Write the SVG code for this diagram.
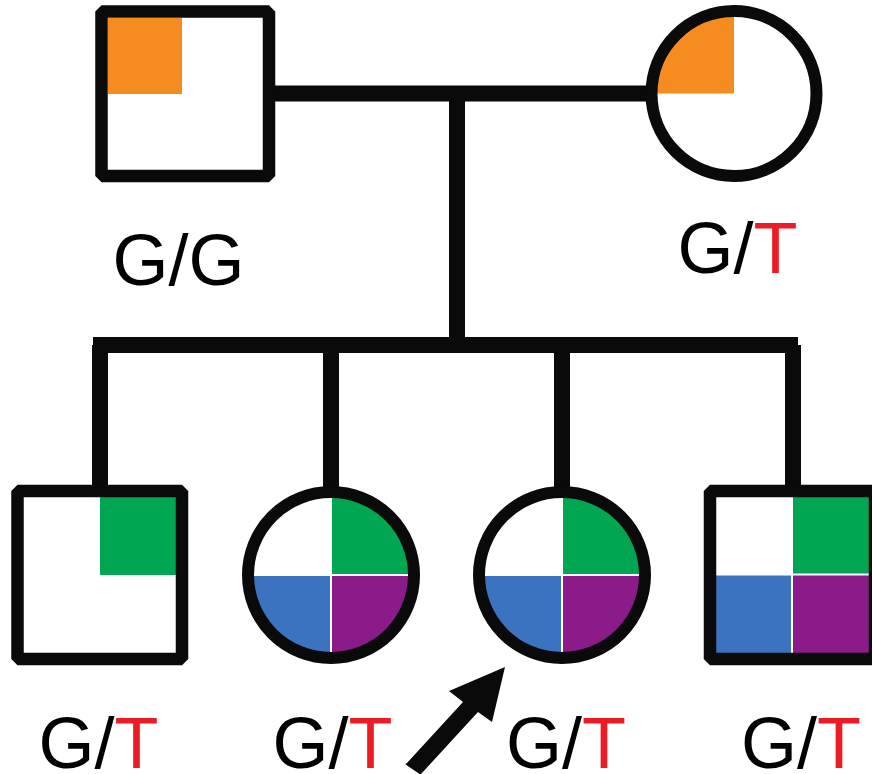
<svg xmlns="http://www.w3.org/2000/svg" width="872" height="774" viewBox="0 0 872 774">
<style>
.lbl{font-family:"Liberation Sans",Arial,sans-serif;font-size:72px;fill:#000}
.r{fill:#ED1C24}
.ln{stroke:#0A0A0A;stroke-width:16;fill:none}
.box{fill:none;stroke:#0A0A0A;stroke-width:12.5;stroke-linejoin:bevel}
.ring{fill:none;stroke:#0A0A0A;stroke-width:12}
.div{stroke:#fff;stroke-width:2}
.or{fill:#F68B1F}.gr{fill:#00A651}.bl{fill:#3B73C1}.pu{fill:#8C1B8A}
</style>
<rect width="872" height="774" fill="#fff"/>
<g id="connectors">
<line class="ln" x1="270" y1="93.5" x2="650" y2="93.5" stroke-width="15"/>
<line class="ln" x1="457" y1="93" x2="457" y2="345"/>
<line class="ln" x1="93" y1="345" x2="798" y2="345"/>
<line class="ln" x1="100" y1="345" x2="100" y2="490"/>
<line class="ln" x1="331" y1="345" x2="331" y2="490"/>
<line class="ln" x1="562" y1="345" x2="562" y2="490"/>
<line class="ln" x1="793" y1="345" x2="793" y2="490"/>
</g>
<g id="father">
<rect x="101.5" y="11.5" width="167.5" height="164.5" fill="#fff"/>
<rect class="or" x="108" y="18" width="74" height="76"/>
<rect class="box" x="101.5" y="11.5" width="167.5" height="164.5"/>
<text class="lbl" x="112.5" y="285">G/G</text>
</g>
<g id="mother">
<circle cx="734" cy="93.5" r="82.5" fill="#fff"/>
<path class="or" d="M734,93.5 H650 A84,84 0 0 1 734,9.5 Z"/>
<circle class="ring" cx="734" cy="93.5" r="82.5"/>
<text class="lbl" x="677.5" y="273">G/<tspan class="r">T</tspan></text>
</g>
<g id="child1">
<rect x="17.5" y="491" width="164.5" height="168" fill="#fff"/>
<rect class="gr" x="100" y="497" width="76" height="78"/>
<rect class="box" x="17.5" y="491" width="164.5" height="168"/>
<text class="lbl" x="38.5" y="768">G/<tspan class="r">T</tspan></text>
</g>
<g id="child2">
<circle cx="331" cy="575" r="83" fill="#fff"/>
<path class="gr" d="M331,575 V493 A82,82 0 0 1 413,575 Z"/>
<path class="pu" d="M331,575 H413 A82,82 0 0 1 331,657 Z"/>
<path class="bl" d="M331,575 V657 A82,82 0 0 1 249,575 Z"/>
<line class="div" x1="331" y1="493" x2="331" y2="660"/>
<line class="div" x1="248" y1="575" x2="414" y2="575"/>
<circle class="ring" cx="331" cy="575" r="83"/>
<text class="lbl" x="272.5" y="768">G/<tspan class="r">T</tspan></text>
</g>
<g id="child3">
<circle cx="562" cy="575" r="83" fill="#fff"/>
<path class="gr" d="M562,575 V493 A82,82 0 0 1 644,575 Z"/>
<path class="pu" d="M562,575 H644 A82,82 0 0 1 562,657 Z"/>
<path class="bl" d="M562,575 V657 A82,82 0 0 1 480,575 Z"/>
<line class="div" x1="562" y1="493" x2="562" y2="660"/>
<line class="div" x1="479" y1="575" x2="645" y2="575"/>
<circle class="ring" cx="562" cy="575" r="83"/>
<text class="lbl" x="506" y="768">G/<tspan class="r">T</tspan></text>
</g>
<g id="child4">
<rect x="710" y="491" width="165" height="168" fill="#fff"/>
<rect class="gr" x="792" y="497" width="77" height="77"/>
<rect class="bl" x="716" y="574" width="76" height="79"/>
<rect class="pu" x="792" y="574" width="77" height="79"/>
<line class="div" x1="792" y1="497" x2="792" y2="653"/>
<line class="div" x1="716" y1="574.5" x2="869" y2="574.5"/>
<rect class="box" x="710" y="491" width="165" height="168"/>
<text class="lbl" x="741" y="768">G/<tspan class="r">T</tspan></text>
</g>
<g id="proband-arrow">
<polygon fill="#0A0A0A" points="505,667 492,722 478,712 420.5,774.6 405.5,764.6 463,702 449,691"/>
</g>
</svg>
